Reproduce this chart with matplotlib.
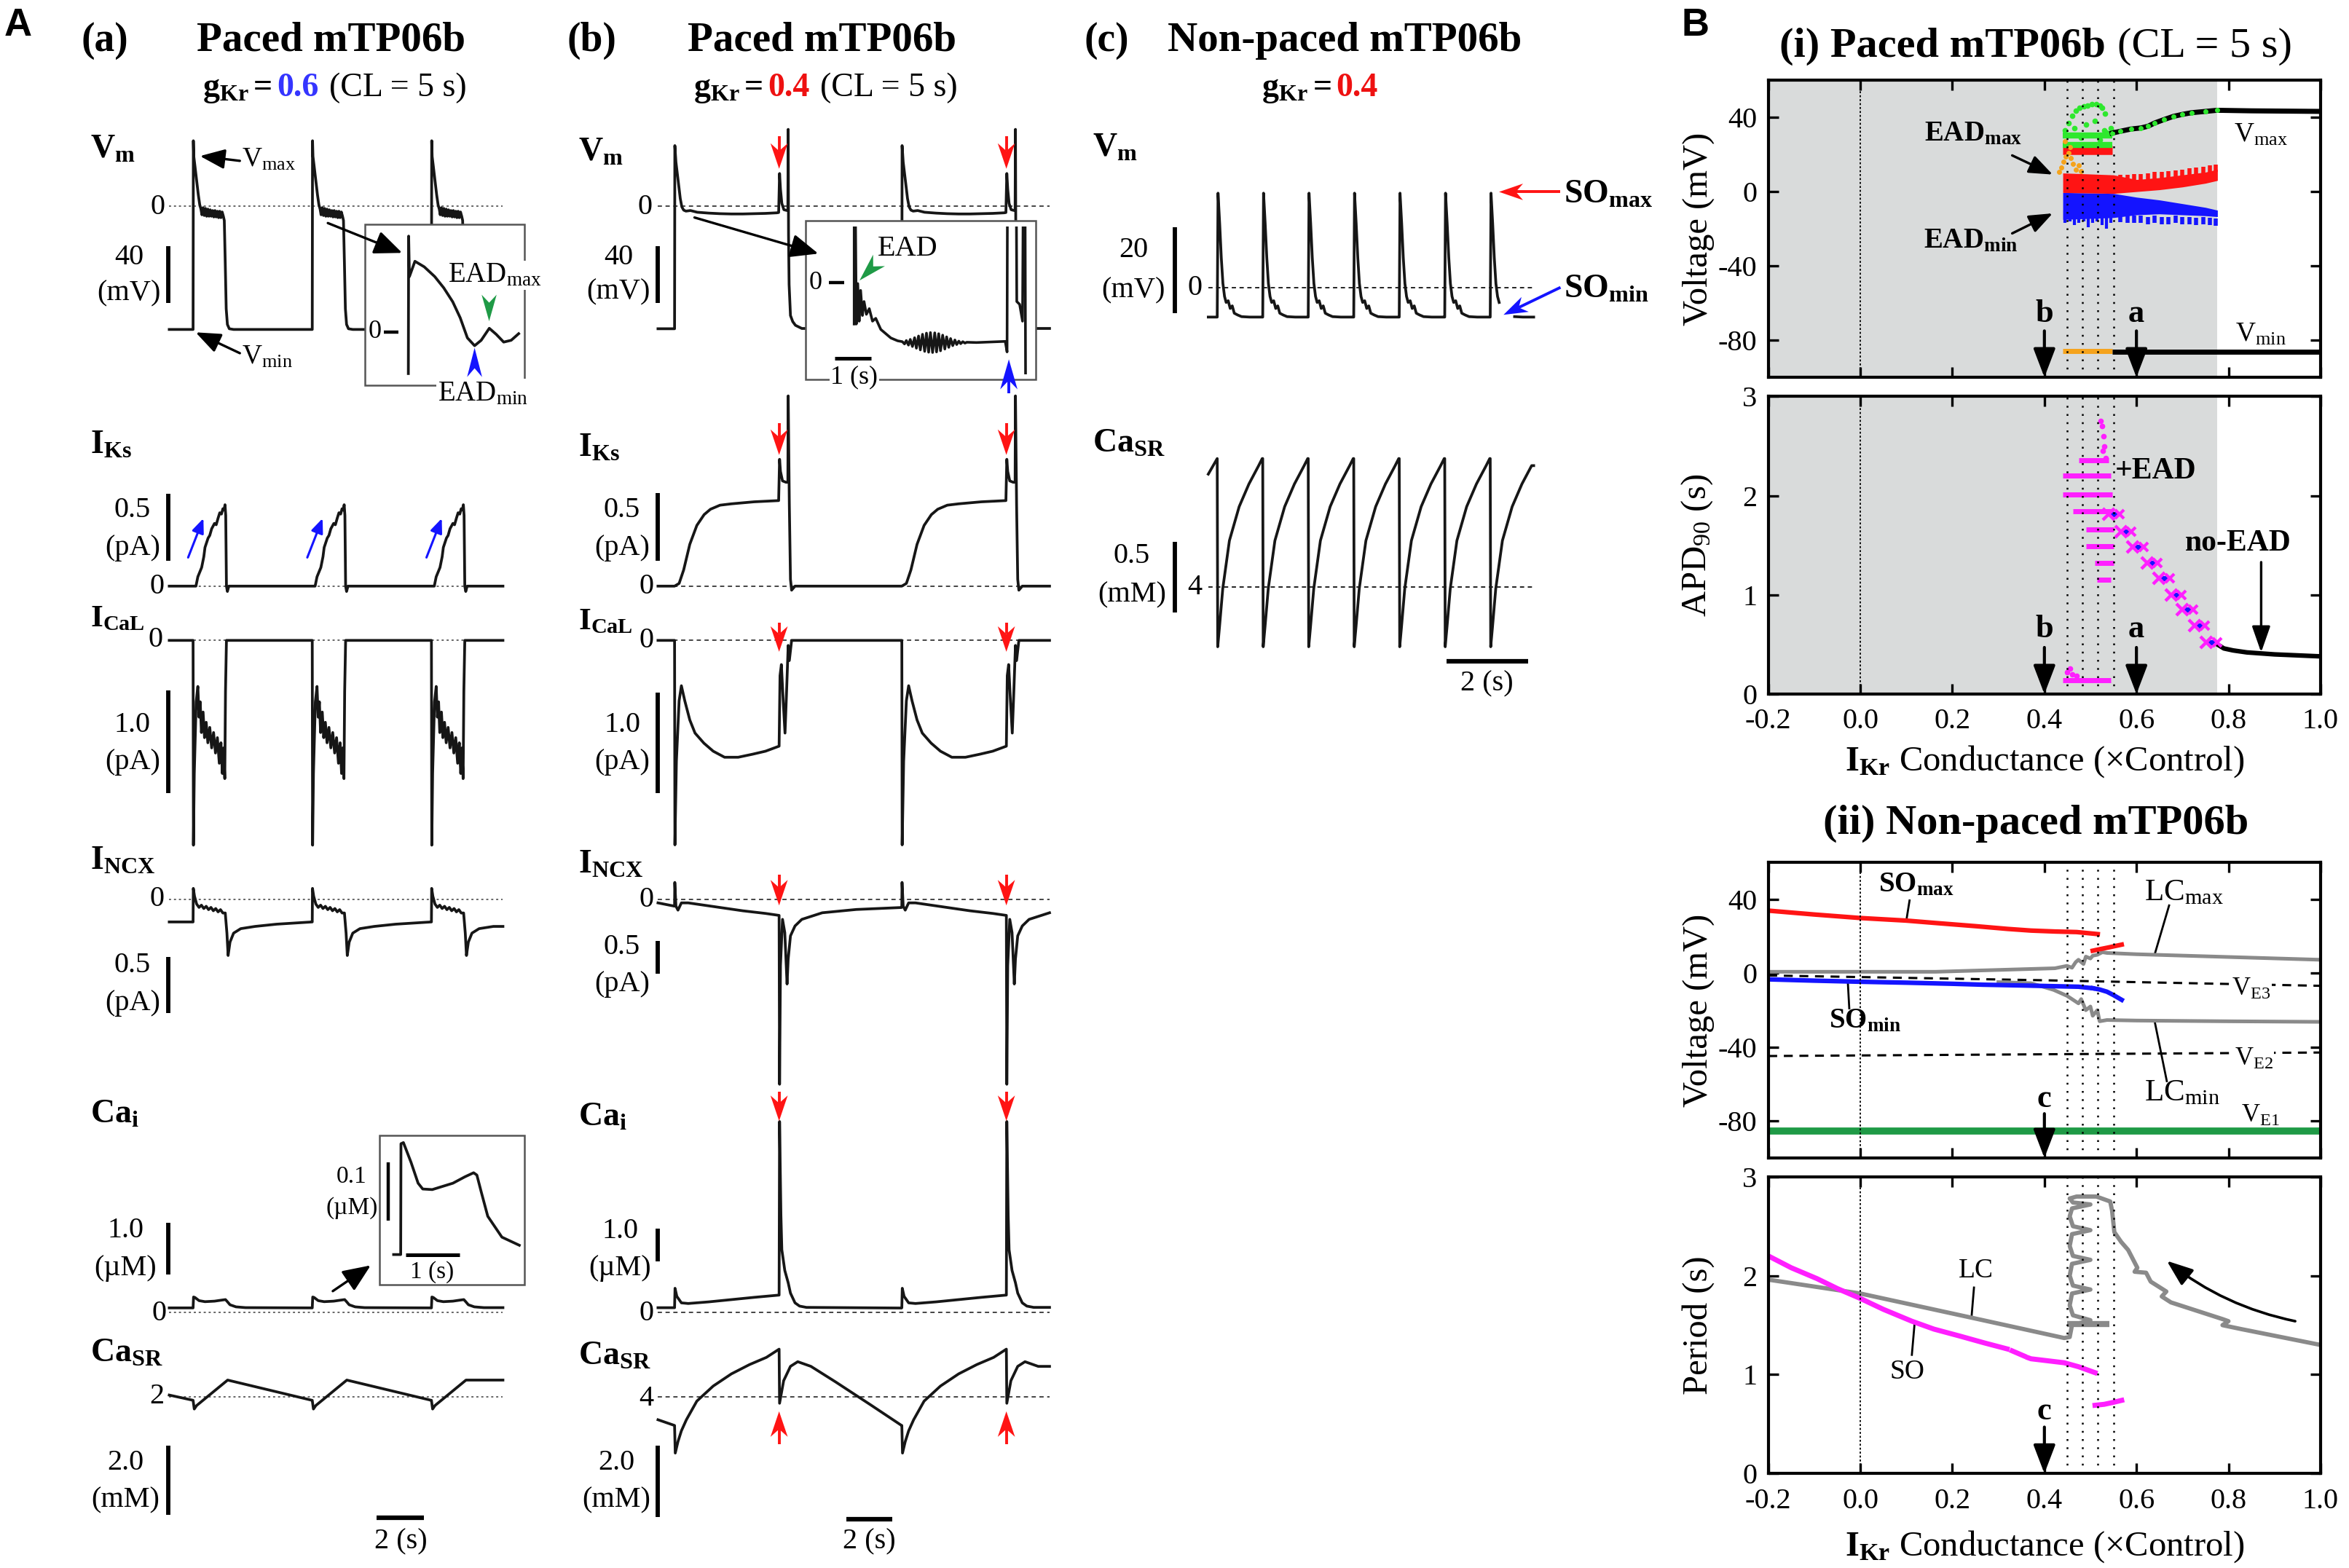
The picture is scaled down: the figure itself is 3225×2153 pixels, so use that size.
#!/usr/bin/env python3
import matplotlib

matplotlib.use("Agg")
import matplotlib.pyplot as plt
import numpy as np
from matplotlib.lines import Line2D
from matplotlib.patches import FancyArrowPatch, Polygon, Rectangle

plt.rcParams["font.family"] = ["Liberation Serif", "DejaVu Serif"]
plt.rcParams["mathtext.fontset"] = "custom"
plt.rcParams["mathtext.rm"] = "Liberation Serif"
plt.rcParams["mathtext.it"] = "Liberation Serif:italic"
plt.rcParams["mathtext.bf"] = "Liberation Serif:bold"
plt.rcParams["axes.unicode_minus"] = False

# ------------------------------------------------------------------ data
# A(a): paced, gKr = 0.6, CL = 5 s.  One beat each, time in s after stimulus.
A_ONSETS = [0.0, 5.0, 10.0]
VM_A_T = [0.0, 0.012, 0.03, 0.08, 0.15, 0.22, 0.28, 0.33, 0.37, 0.42, 0.47, 0.52,
          0.57, 0.62, 0.67, 0.72, 0.77, 0.82, 0.87, 0.92, 0.97, 1.02, 1.07, 1.12,
          1.17, 1.22, 1.27, 1.31, 1.35, 1.39, 1.44, 1.52, 1.7]
VM_A_V = [-86.5, 46, 35, 28, 18, 8, 1, -2, -6, -1, -6.5, -1.5, -7, -2, -7, -2.5,
          -7, -3, -7.5, -3, -7.5, -3.5, -8, -3.5, -8, -4, -7, -10, -40, -72, -83,
          -86, -86.5]
IKS_A_T = [0.0, 0.12, 0.2, 0.36, 0.45, 0.5, 0.63, 0.7, 0.78, 0.9, 0.97, 1.05, 1.12,
           1.19, 1.25, 1.3, 1.34, 1.37, 1.4, 1.44, 1.5]
IKS_A_V = [0.0, 0.0, 0.07, 0.14, 0.22, 0.29, 0.36, 0.38, 0.43, 0.47, 0.46, 0.51,
           0.55, 0.54, 0.58, 0.57, 0.61, 0.53, 0.0, -0.04, 0.0]
ICAL_A_T = [0.0, 0.015, 0.05, 0.13, 0.2, 0.25, 0.3, 0.35, 0.42, 0.48, 0.55, 0.62,
            0.7, 0.78, 0.86, 0.94, 1.02, 1.1, 1.17, 1.23, 1.28, 1.33, 1.36, 1.4, 1.5]
ICAL_A_V = [0.0, -2.0, -1.3, -0.6, -0.45, -0.75, -0.6, -0.9, -0.7, -0.95, -0.8,
            -1.0, -0.85, -1.05, -0.9, -1.1, -0.95, -1.2, -1.0, -1.3, -1.05, -1.35,
            -0.5, 0.0, 0.0]
INCX_A_T = [0.0, 0.01, 0.06, 0.15, 0.25, 0.35, 0.45, 0.55, 0.65, 0.75, 0.85, 0.95,
            1.05, 1.15, 1.25, 1.35, 1.42, 1.47, 1.55, 1.7, 2.0, 2.6, 3.5, 4.99]
INCX_A_V = [-0.2, 0.1, 0.03, -0.04, -0.07, -0.05, -0.08, -0.06, -0.09, -0.07, -0.1,
            -0.08, -0.11, -0.09, -0.12, -0.12, -0.3, -0.5, -0.38, -0.3, -0.26,
            -0.24, -0.22, -0.2]
CAI_A_T = [0.0, 0.02, 0.08, 0.25, 0.5, 0.9, 1.2, 1.36, 1.42, 1.55, 1.8, 2.2, 4.99]
CAI_A_V = [0.09, 0.3, 0.29, 0.23, 0.21, 0.22, 0.24, 0.25, 0.22, 0.15, 0.11, 0.095, 0.09]
CASR_A_T = [0.0, 0.05, 0.15, 1.45, 4.99]
CASR_A_V = [1.9, 1.65, 1.75, 2.48, 1.9]
A_PRE = {"vm": -86.5, "iks": 0.0, "ical": 0.0, "incx": -0.2, "cai": 0.09, "casr": 2.05}

# A(b): paced, gKr = 0.4, CL = 5 s (2:1, EAD then stimulus at 5 s)
B_ONSETS = [0.0, 10.0]
VM_B_T = [0.0, 0.012, 0.06, 0.15, 0.25, 0.32, 0.4, 0.5, 0.7, 1.0, 1.5, 2.0, 2.5, 3.0,
          3.5, 4.0, 4.5, 4.58, 4.62, 4.66, 4.72, 4.81, 4.9, 4.985, 5.0, 5.015, 5.04,
          5.1, 5.2, 5.32, 5.6, 9.99]
VM_B_V = [-86, 42.6, 31, 19, 5.5, -0.4, -2.7, -3.4, -3.0, -4.2, -4.8, -5.2, -5.4,
          -5.4, -5.2, -5.0, -4.6, -4.4, 23, 12, 2, -2.4, -2.8, -3.0, 54, -20, -55,
          -76.7, -81, -83.6, -85.8, -86]
IKS_B_T = [0.0, 0.2, 0.4, 0.67, 0.98, 1.3, 1.58, 2.0, 2.5, 3.5, 4.58, 4.62, 4.66,
           4.75, 4.9, 4.985, 5.0, 5.05, 5.1, 5.15, 5.3, 9.99]
IKS_B_V = [0.0, 0.02, 0.12, 0.31, 0.45, 0.53, 0.57, 0.6, 0.61, 0.625, 0.634, 0.94,
           0.85, 0.78, 0.77, 0.77, 1.41, 0.6, 0.05, -0.03, 0.0, 0.0]
ICAL_B_T = [0.0, 0.015, 0.08, 0.2, 0.3, 0.45, 0.67, 0.9, 1.29, 1.7, 2.2, 2.8, 3.43,
            4.0, 4.6, 4.64, 4.7, 4.78, 4.86, 4.93, 5.0, 5.05, 5.15, 9.99]
ICAL_B_V = [0.0, -2.03, -1.2, -0.6, -0.45, -0.6, -0.79, -0.92, -1.02, -1.1, -1.16,
            -1.16, -1.13, -1.1, -1.05, -0.35, -0.24, -0.6, -0.92, -0.5, -0.05, -0.2,
            0.0, 0.0]
INCX_B_T = [0.0, 0.01, 0.06, 0.15, 0.3, 0.6, 1.0, 2.0, 3.0, 4.0, 4.6, 4.62, 4.66,
            4.75, 4.85, 4.95, 5.0, 5.1, 5.3, 5.6, 6.5, 8.0, 9.99]
INCX_B_V = [-0.1, 0.26, -0.1, -0.16, -0.05, -0.05, -0.07, -0.12, -0.17, -0.21,
            -0.24, -2.8, -1.0, -0.3, -0.5, -1.28, -0.9, -0.55, -0.4, -0.3, -0.2,
            -0.15, -0.12]
CAI_B_T = [0.0, 0.02, 0.1, 0.3, 0.6, 1.5, 2.5, 3.5, 4.6, 4.62, 4.68, 4.72, 4.85,
           5.0, 5.1, 5.3, 5.5, 5.8, 9.99]
CAI_B_V = [0.15, 0.75, 0.5, 0.3, 0.28, 0.33, 0.4, 0.47, 0.54, 5.9, 3.0, 1.94, 1.3,
           0.92, 0.6, 0.3, 0.2, 0.16, 0.14]
CASR_B_T = [0.0, 0.03, 0.15, 0.3, 0.52, 0.98, 1.7, 2.5, 3.3, 4.04, 4.6, 4.62, 4.8,
            5.1, 5.42, 6.0, 7.1, 8.64, 9.99]
CASR_B_V = [3.2, 2.43, 2.75, 3.05, 3.36, 3.88, 4.3, 4.64, 4.9, 5.1, 5.33, 3.82, 4.45,
            4.85, 4.98, 4.85, 4.41, 3.77, 3.2]
B_PRE = {"vm": -86.0, "iks": 0.0, "ical": 0.0, "incx": -0.05, "cai": 0.15, "casr": 3.36}
B_EAD_T = 4.6

# A(c): non-paced, gKr = 0.4 (self-sustained oscillation, period 1.12 s)
C_ONSETS = [0.0, 1.12, 2.24, 3.36, 4.48, 5.60, 6.72]
VM_C_T = [0.0, 0.02, 0.06, 0.1, 0.14, 0.18, 0.22, 0.27, 0.32, 0.37, 0.42, 0.5, 0.6, 0.8, 1.11]
VM_C_V = [-6.8, 22, 15, 7, 1, -2, -3.4, -3.0, -4.8, -4.2, -5.9, -6.3, -6.7, -6.8, -6.8]
CASR_C_T = [0.0, 0.012, 0.056, 0.136, 0.3, 0.54, 0.78, 1.02, 1.108]
CASR_C_V = [4.91, 3.58, 3.72, 3.99, 4.33, 4.57, 4.73, 4.86, 4.91]

# insets (time in s, Vm in mV / Cai in uM)
INSET_A = [(0.0, -27.9), (0.005, 63.8), (0.018, 36.8), (0.11, 47.0), (0.265, 43.3),
           (0.44, 36.8), (0.59, 29.3), (0.74, 20.0), (0.865, 9.3), (0.985, -4.1),
           (1.105, -9.3), (1.215, -5.7), (1.35, 2.3), (1.465, -1.7), (1.59, -6.9),
           (1.715, -5.7), (1.84, -1.3)]
INSET_B = [(0.0, -14.5), (0.002, 80), (0.06, -14.5), (0.1, -0.3), (0.14, -13.5),
           (0.18, -2.7), (0.23, -11.5), (0.275, -6.6), (0.34, -11.1), (0.42, -9.1),
           (0.51, -13.5), (0.6, -12.5), (0.74, -16.4), (0.88, -17.9), (1.02, -19.4),
           (1.21, -20.4), (1.34, -20.7), (1.40, -21.5), (1.45, -20.3), (1.51, -21.9),
           (1.56, -19.9), (1.62, -22.4), (1.68, -19.3), (1.73, -23.0), (1.79, -18.7),
           (1.84, -23.6), (1.90, -18.1), (1.96, -24.1), (2.01, -17.7), (2.07, -24.4),
           (2.12, -17.5), (2.18, -24.5), (2.24, -17.6), (2.29, -24.3), (2.35, -17.9),
           (2.40, -23.9), (2.46, -18.4), (2.52, -23.3), (2.57, -19.0), (2.63, -22.7),
           (2.68, -19.6), (2.74, -22.1), (2.80, -20.1), (2.85, -21.7), (2.91, -20.5),
           (2.96, -21.4), (3.02, -20.7), (3.08, -21.2), (3.13, -20.9), (3.4, -21.0),
           (4.2, -20.6), (4.25, -24.3), (4.27, 80), (4.49, 80), (4.52, -6.6),
           (4.6, -7.6), (4.68, -13.5), (4.72, 80), (4.74, 80), (4.77, -60)]
INSET_CAI = [(-0.13, 0.1), (0.0, 0.1), (0.005, 0.291), (0.05, 0.293), (0.19, 0.259),
             (0.32, 0.223), (0.405, 0.213), (0.58, 0.212), (0.96, 0.223), (1.18, 0.234),
             (1.34, 0.241), (1.4, 0.237), (1.48, 0.208), (1.6, 0.166), (1.86, 0.13),
             (2.18, 0.116)]

# B(i): paced bifurcation, x = IKr conductance (x control)
B_XTICKS = [-0.2, 0.0, 0.2, 0.4, 0.6, 0.8, 1.0]
B_XTICKLABELS = ["-0.2", "0.0", "0.2", "0.4", "0.6", "0.8", "1.0"]
SHADE_END = 0.776
EAD_DOTLINES = [0.449, 0.483, 0.516, 0.55]
VMAX_X = [0.547, 0.565, 0.588, 0.61, 0.625, 0.64, 0.66, 0.68, 0.70, 0.72, 0.75, 0.775, 0.85, 0.95, 1.0]
VMAX_Y = [31.5, 32.5, 33.7, 34.3, 35.2, 37.0, 38.8, 40.5, 41.6, 42.5, 43.2, 43.8, 43.5, 43.3, 43.2]
VMIN_EAD_X = [0.44, 0.547]
VMIN_EAD_Y = [-86.0, -86.0]
VMIN_X = [0.547, 1.0]
VMIN_Y = [-86.3, -86.3]
GREEN_BAND_Y = [30.3, 25.0]
GREEN_BAND_X = [0.44, 0.547]
GREEN_DOT_X = [0.445, 0.452, 0.46, 0.468, 0.476, 0.485, 0.494, 0.503, 0.512, 0.52,
               0.526, 0.532, 0.465, 0.49, 0.51, 0.53, 0.48, 0.52, 0.535, 0.545]
GREEN_DOT_Y = [33, 37, 41, 43.5, 45, 46, 46.5, 47, 47, 46.5, 45, 42, 34, 36, 38, 33,
               29, 28, 32, 34]
RED_BAND_Y = 22.5
RED_X = [0.44, 0.55, 0.60, 0.65, 0.70, 0.75, 0.776]
RED_LO = [-0.5, -1.0, 0.0, 1.0, 2.5, 4.5, 6.0]
RED_HI = [10.0, 9.0, 6.5, 7.5, 9.0, 10.5, 12.0]
SPIKE_X = [0.565, 0.58, 0.595, 0.61, 0.625, 0.64, 0.655, 0.67, 0.685, 0.70, 0.715,
           0.73, 0.745, 0.76, 0.772]
RED_SPIKE_LO = [5, 5, 5.5, 5.5, 6, 6.5, 6.5, 7, 7.5, 8, 8.5, 9, 9.5, 10, 10.5]
RED_SPIKE_HI = [9.0, 9.0, 9.5, 9.5, 10, 10.5, 10.5, 11, 11.5, 12, 12.5, 13, 13.5, 14, 14.5]
BLUE_X = [0.44, 0.55, 0.60, 0.65, 0.70, 0.75, 0.776]
BLUE_HI = [-0.5, -1.0, -3.0, -4.5, -6.5, -8.5, -10.0]
BLUE_LO = [-15.0, -14.0, -12.5, -12.0, -12.5, -13.0, -13.5]
BLUE_SPIKE_LO = [-16.5, -17, -17, -17, -17.5, -17, -17.5, -17.5, -17, -17.5, -17.5,
                 -18, -17.5, -18, -18.5]
BLUE_EAD_SPIKE_X = [0.445, 0.455, 0.465, 0.475, 0.485, 0.495, 0.505, 0.515, 0.525, 0.535, 0.545]
BLUE_EAD_SPIKE_LO = [-17, -16, -18, -17, -16, -19, -17, -16, -18, -20, -17]
ORANGE_DOT_X = [0.432, 0.437, 0.442, 0.447, 0.452, 0.457, 0.462, 0.468, 0.474, 0.48, 0.455, 0.445]
ORANGE_DOT_Y = [10.5, 13, 16, 19, 21, 18, 15, 12, 14, 11, 24, 27]

APD_NOEAD_X = [0.776, 0.79, 0.81, 0.84, 0.87, 0.9, 0.95, 1.0]
APD_NOEAD_Y = [0.50, 0.46, 0.44, 0.42, 0.41, 0.40, 0.39, 0.38]
STEP_X = [0.552, 0.578, 0.604, 0.635, 0.661, 0.687, 0.712, 0.738, 0.764]
STEP_Y = [1.81, 1.64, 1.48, 1.32, 1.17, 1.00, 0.85, 0.69, 0.52]
MAG_BAND_X0 = [0.44, 0.44, 0.462, 0.49, 0.49, 0.51, 0.515, 0.475, 0.44]
MAG_BAND_X1 = [0.545, 0.548, 0.55, 0.55, 0.55, 0.55, 0.545, 0.54, 0.545]
MAG_BAND_Y = [2.20, 2.01, 1.84, 1.66, 1.49, 1.32, 1.15, 2.36, 0.14]
MAG_DOT_X = [0.522, 0.525, 0.528, 0.53, 0.527, 0.533, 0.45, 0.455, 0.46, 0.47]
MAG_DOT_Y = [2.75, 2.7, 2.6, 2.5, 2.45, 2.38, 0.22, 0.26, 0.2, 0.18]

# B(ii): non-paced bifurcation
SOMAX_X = [-0.2, -0.1, 0.0, 0.1, 0.164, 0.25, 0.32, 0.371, 0.423, 0.47, 0.516]
SOMAX_Y = [33.9, 31.8, 29.9, 28.5, 27.2, 25.5, 24.0, 23.1, 22.6, 22.3, 21.2]
SOMAX2_X = [0.505, 0.52, 0.54, 0.555, 0.568]
SOMAX2_Y = [12.2, 13.0, 14.0, 14.8, 15.5]
SOMIN_X = [-0.2, -0.1, 0.0, 0.1, 0.2, 0.267, 0.35, 0.42, 0.474, 0.505]
SOMIN_Y = [-3.3, -4.0, -4.6, -5.1, -5.7, -6.2, -6.6, -7.0, -7.3, -8.1]
SOMIN2_X = [0.505, 0.52, 0.536, 0.55, 0.568]
SOMIN2_Y = [-8.1, -8.8, -10.0, -11.8, -14.4]
LCMAX_X = [-0.2, 0.0, 0.164, 0.3, 0.423, 0.449, 0.46, 0.468, 0.474, 0.485, 0.49, 0.5,
           0.505, 0.515, 0.526, 0.536, 0.6, 0.8, 1.0]
LCMAX_Y = [0.8, 0.8, 0.8, 1.8, 2.7, 4.0, 3.0, 6.0, 7.3, 5.0, 9.0, 8.0, 9.5, 10.0,
           11.4, 11.0, 10.3, 8.8, 7.3]
LCMIN_X = [0.3, 0.371, 0.42, 0.449, 0.46, 0.474, 0.48, 0.49, 0.5, 0.505, 0.515, 0.52,
           0.536, 0.6, 0.8, 1.0]
LCMIN_Y = [-4.8, -5.4, -9.0, -12.2, -14.0, -16.3, -14.0, -20.0, -18.0, -23.0, -20.0,
           -26.0, -25.3, -25.6, -26.0, -26.3]
VE3_X = [-0.2, 0.4, 1.0]
VE3_Y = [-1.2, -3.8, -6.8]
VE2_X = [-0.2, 1.0]
VE2_Y = [-44.8, -42.9]
VE1_X = [-0.2, 1.0]
VE1_Y = [-85.5, -85.5]

SO_PER_X = [-0.2, -0.15, -0.094, -0.05, 0.0, 0.05, 0.112, 0.16, 0.216, 0.27, 0.319,
            np.nan, 0.33, 0.355, np.nan, 0.365, 0.371, 0.443, 0.474, 0.51]
SO_PER_Y = [2.2, 2.08, 1.97, 1.87, 1.77, 1.66, 1.54, 1.46, 1.39, 1.32, 1.26,
            np.nan, 1.24, 1.19, np.nan, 1.17, 1.16, 1.12, 1.08, 1.02]
SO_PER2_X = [0.51, 0.53, 0.55, 0.568]
SO_PER2_Y = [0.69, 0.70, 0.72, 0.74]
LC_PER_X = [-0.2, 0.0, 0.247, 0.443, 0.455,
            0.46, 0.50, 0.462, 0.455, 0.46, 0.50, 0.462, 0.455, 0.46, 0.50, 0.462,
            0.455, 0.46, 0.50, 0.462, 0.455, 0.46, 0.50, 0.462, 0.455, 0.47, 0.513,
            0.543, 0.547, 0.552, 0.567, 0.582, 0.602, 0.596, 0.621, 0.631, 0.665,
            0.655, 0.675, 0.788, 0.80, 0.787, 0.828, 1.0]
LC_PER_Y = [1.96, 1.82, 1.57, 1.37, 1.38,
            1.5, 1.55, 1.6, 1.7, 1.82, 1.86, 1.9, 2.0, 2.12, 2.16, 2.2, 2.3, 2.42,
            2.46, 2.5, 2.6, 2.68, 2.72, 2.74, 2.78, 2.8, 2.8,
            2.75, 2.66, 2.44, 2.34, 2.26, 2.08, 2.04, 2.03, 1.94, 1.84,
            1.79, 1.73, 1.56, 1.54, 1.5, 1.46, 1.30]
LC_FLAT_X = [0.449, 0.541]
LC_FLAT_Y = [1.515, 1.515]

# ---------------------------------------------------------------- style
TRACE = "#161616"
RED = "#ff1414"
BLUE = "#1414ff"
GREEN = "#2ee82e"
DKGREEN = "#1f9a46"
ORANGE = "#f5a31c"
MAGENTA = "#ff1fff"
GRAY = "#8a8a8a"
BG = "#d9dbdb"
TXT_BLUE = "#3535ff"
TXT_RED = "#ee1111"

W, H = 1567.0, 1046.0  # layout grid of the reference (px)
fig = plt.figure(figsize=(32.25, 21.53), dpi=100)


def fx(x):
    return x / W


def fy(y):
    return 1.0 - y / H


def ftext(x, y, s, size, **kw):
    kw.setdefault("ha", "center")
    kw.setdefault("va", "center")
    kw.setdefault("zorder", 5)
    return fig.text(fx(x), fy(y), s, fontsize=size, **kw)


def fline(xs, ys, lw=2.0, color="k", z=4):
    fig.add_artist(Line2D([fx(a) for a in xs], [fy(b) for b in ys], lw=lw, color=color,
                          transform=fig.transFigure, zorder=z, solid_capstyle="butt"))


def farrow(x0, y0, x1, y1, color="k", lw=2.4, ms=26, hl=0.9, hw=0.38):
    fig.add_artist(FancyArrowPatch((fx(x0), fy(y0)), (fx(x1), fy(y1)),
                                   transform=fig.transFigure,
                                   arrowstyle=f"-|>,head_length={hl},head_width={hw}",
                                   mutation_scale=ms, lw=lw, color=color,
                                   shrinkA=0, shrinkB=0, zorder=6))


def fhead(xt, yt, xb, yb, color, width=9.0, notch=0.3):
    # notched arrow head: tip (xt, yt), wing base centre (xb, yb), layout px
    dx, dy = xt - xb, yt - yb
    L = np.hypot(dx, dy)
    ux, uy = dx / L, dy / L
    nx, ny = -uy, ux
    pts = [(xt, yt), (xb + nx * width / 2, yb + ny * width / 2),
           (xb + ux * L * notch, yb + uy * L * notch),
           (xb - nx * width / 2, yb - ny * width / 2)]
    fig.add_artist(Polygon([(fx(a), fy(b)) for a, b in pts], closed=True,
                           transform=fig.transFigure, color=color, lw=0, zorder=6))


def notched_arrow(x0, y0, x1, y1, color, head=17.0, width=11.5, lw=2.8):
    dx, dy = x1 - x0, y1 - y0
    L = np.hypot(dx, dy)
    ux, uy = dx / L, dy / L
    hb = (x1 - ux * head, y1 - uy * head)
    nb = (hb[0] + ux * head * 0.3, hb[1] + uy * head * 0.3)
    fline([x0, nb[0]], [y0, nb[1]], lw=lw, color=color, z=6)
    fhead(x1, y1, hb[0], hb[1], color, width=width, notch=0.3)


def chain_text(xc, y, parts, size):
    r = fig.canvas.get_renderer()
    arts, widths = [], []
    for s, col, wt, gap in parts:
        t = fig.text(0, fy(y), s, fontsize=size, color=col, fontweight=wt,
                     ha="left", va="baseline", zorder=5)
        arts.append(t)
        widths.append(t.get_window_extent(r).width / fig.bbox.width + fx(gap))
    x = fx(xc) - sum(widths) / 2
    for t, w in zip(arts, widths):
        t.set_x(x)
        x += w


def trace_axes(x0, y0, x1, y1, t0_px, pps, zero_px, ppu, z=0):
    ax = fig.add_axes([fx(x0), fy(y1), (x1 - x0) / W, (y1 - y0) / H], zorder=z)
    ax.set_xlim((x0 - t0_px) / pps, (x1 - t0_px) / pps)
    ax.set_ylim((zero_px - y1) / ppu, (zero_px - y0) / ppu)
    ax.axis("off")
    return ax


def train(onsets, bt, bv, t_start, v_start, t_end):
    t, v = [t_start], [v_start]
    for t0 in onsets:
        for a, b in zip(bt, bv):
            t.append(t0 + a)
            v.append(b)
    t, v = np.array(t), np.array(v, dtype=float)
    keep = t <= t_end
    t, v = t[keep], v[keep]
    if t[-1] < t_end:
        t, v = np.append(t, t_end), np.append(v, v[-1])
    return t, v


COL_A = dict(x0=100, x1=360, t0=128.8, pps=15.9, onsets=A_ONSETS, ts=-1.0, te=13.0,
             bar_x=112.2, ref_ls=(0, (1.5, 2.0)), ref_c="#666666")
COL_B = dict(x0=430, x1=710, t0=450.0, pps=15.16, onsets=B_ONSETS, ts=-0.73, te=16.5,
             bar_x=439.0, ref_ls=(0, (3, 2.5)), ref_c="#444444")
COL_C = dict(x0=780, x1=1030, t0=812.0, pps=27.1, onsets=C_ONSETS, ts=-0.22, te=7.79,
             bar_x=783.5, ref_ls=(0, (3, 2.5)), ref_c="#222222")


def row(col, bt, bv, pre, y0, y1, zero_px, ppu, ref, bar_len, bar_bottom, gap=None):
    ax = trace_axes(col["x0"], y0, col["x1"], y1, col["t0"], col["pps"], zero_px, ppu)
    t, v = train(col["onsets"], bt, bv, col["ts"], pre, col["te"])
    if gap is not None:
        v[(t > gap[0]) & (t < gap[1])] = np.nan
    ax.plot([col["ts"], col["te"]], [ref, ref], color=col["ref_c"], ls=col["ref_ls"],
            lw=1.4, zorder=1)
    ax.plot(t, v, color=TRACE, lw=2.7, clip_on=False, zorder=3, solid_joinstyle="round")
    tb = (col["bar_x"] - col["t0"]) / col["pps"]
    vb = (zero_px - bar_bottom) / ppu
    ax.plot([tb, tb], [vb, vb + bar_len], color="k", lw=4.2, solid_capstyle="butt",
            clip_on=False)
    return ax


def time_bar(ax, col, zero_px, ppu, x_left, y_px, seconds):
    t1 = (x_left - col["t0"]) / col["pps"]
    vb = (zero_px - y_px) / ppu
    ax.plot([t1, t1 + seconds], [vb, vb], color="k", lw=4.5, solid_capstyle="butt",
            clip_on=False)


LAB = 33
SCL = 29

# ---------------------------------------------------------------- headers
ftext(12, 17, "A", 38, family="Liberation Sans", fontweight="bold")
ftext(1131, 17, "B", 38, family="Liberation Sans", fontweight="bold")
ftext(70, 27, "(a)", 40, fontweight="bold")
ftext(221, 27, "Paced mTP06b", 41, fontweight="bold")
ftext(395, 27, "(b)", 40, fontweight="bold")
ftext(548.5, 27, "Paced mTP06b", 41, fontweight="bold")
ftext(738, 27, "(c)", 40, fontweight="bold")
ftext(897, 27, "Non-paced mTP06b", 41, fontweight="bold")
for xc, val, col, tail in [(223, "0.6", TXT_BLUE, True), (550.5, "0.4", TXT_RED, True),
                           (884, "0.4", TXT_RED, False)]:
    parts = [(r"$\mathbf{g_{Kr}}$", "k", "normal", 3), ("=", "k", "bold", 3),
             (val, col, "bold", 7)]
    if tail:
        parts.append(("(CL = 5 s)", "k", "normal", 0))
    chain_text(xc, 64, parts, 33)

# ---------------------------------------------------------------- column (a)
row(COL_A, VM_A_T, VM_A_V, A_PRE["vm"], 80, 240, 137.6, 0.95, 0, 40, 202)
row(COL_A, IKS_A_T, IKS_A_V, A_PRE["iks"], 280, 400, 391.0, 89.0, 0, 0.5, 374)
row(COL_A, ICAL_A_T, ICAL_A_V, A_PRE["ical"], 405, 570, 427.2, 68.3, 0, 1.0, 529.1)
row(COL_A, INCX_A_T, INCX_A_V, A_PRE["incx"], 585, 690, 600.1, 74.6, 0, 0.5, 675.8)
row(COL_A, CAI_A_T, CAI_A_V, A_PRE["cai"], 740, 885, 875.6, 34.6, 0, 1.0, 850.2)
ax = row(COL_A, CASR_A_T, CASR_A_V, A_PRE["casr"], 890, 1020, 978.3, 23.25, 2, 2.0, 1010.7)
time_bar(ax, COL_A, 978.3, 23.25, 251, 1012.6, 2.0)
ftext(267.3, 1028.6, "2 (s)", SCL)

for lab, y, size in [(r"$\mathbf{V_m}$", 100, LAB), (r"$\mathbf{I_{Ks}}$", 297, LAB),
                     (r"$\mathbf{I_{CaL}}$", 413, 31), (r"$\mathbf{I_{NCX}}$", 574.7, LAB),
                     (r"$\mathbf{Ca_i}$", 743.6, LAB), (r"$\mathbf{Ca_{SR}}$", 902.7, LAB)]:
    ftext(60.4, y, lab, size, ha="left")
    ftext(385.8, y + 2, lab, size, ha="left")
for s, x, y in [("0", 105, 138), ("40", 86, 171.5), ("(mV)", 86, 195.7),
                ("0", 104.6, 391.4), ("0.5", 88.3, 340.4), ("(pA)", 88.3, 365.4),
                ("0", 103.6, 427), ("1.0", 88.3, 483.6), ("(pA)", 88.3, 508.5),
                ("0", 104.6, 600), ("0.5", 88.3, 644), ("(pA)", 88.3, 669),
                ("0", 106, 876.4), ("1.0", 83.7, 821), ("(µM)", 83.7, 846),
                ("2", 104.6, 931.8), ("2.0", 83.7, 976), ("(mM)", 83.7, 1001)]:
    ftext(x, y, s, SCL)

# Vmax / Vmin pointers
ftext(161.5, 106.4, r"V$_{\rm max}$", 27, ha="left")
farrow(160, 107.3, 133.4, 104.1, hl=0.8, hw=0.32)
ftext(161.5, 238.4, r"V$_{\rm min}$", 27, ha="left")
farrow(160, 235.6, 130.5, 221.7, hl=0.8, hw=0.32)
# IKs rising arrows
for k in A_ONSETS:
    dx = k * COL_A["pps"]
    farrow(125.5 + dx, 371.9, 135.7 + dx, 345.8, color=BLUE, lw=2.2, ms=20, hl=0.6, hw=0.25)

# Vm inset (a)
fig.add_artist(Rectangle((fx(243.6), fy(257)), (350 - 243.6) / W, (257 - 149.5) / H,
                         transform=fig.transFigure, facecolor="white", edgecolor="#555555",
                         lw=1.8, zorder=1.5))
axi = trace_axes(243.6, 152, 350, 255, 272.4, 40.0, 221.3, 1.0, z=2)
axi.plot([p[0] for p in INSET_A], [p[1] for p in INSET_A], color=TRACE, lw=2.7)
ftext(250, 221.3, "0", 26)
fline([256, 266], [221.3, 221.3], lw=3.2)
ftext(330, 183.6, r"EAD$_{\rm max}$", 28,
      bbox=dict(facecolor="white", edgecolor="none", pad=1))
ftext(322, 262.6, r"EAD$_{\rm min}$", 28,
      bbox=dict(facecolor="white", edgecolor="none", pad=1))
fhead(326.3, 214.3, 326.3, 196.6, DKGREEN, width=10)
fhead(316.6, 232, 316.6, 251.5, BLUE, width=10)
farrow(218.7, 148.8, 268.3, 168.7, lw=2.4)

# Cai inset (a)
fig.add_artist(Rectangle((fx(253.3), fy(857.1)), (350 - 253.3) / W, (857.1 - 757.5) / H,
                         transform=fig.transFigure, facecolor="white", edgecolor="#555555",
                         lw=1.8, zorder=1.5))
axc = trace_axes(253.3, 760, 350, 855, 267.3, 36.3, 875.6, 387.0, z=2)
axc.plot([p[0] for p in INSET_CAI], [p[1] for p in INSET_CAI], color=TRACE, lw=2.7)
fline([259, 259], [775.5, 814.2], lw=3.2)
ftext(234.7, 785.1, "0.1", 24)
ftext(234.7, 805.9, "(µM)", 24)
fline([270.5, 306.8], [837.2, 837.2], lw=3.6)
ftext(288.2, 848.5, "1 (s)", 24)
farrow(222, 861.3, 247.3, 844.1, lw=2.4)

# ---------------------------------------------------------------- column (b)
row(COL_B, VM_B_T, VM_B_V, B_PRE["vm"], 75, 240, 137.6, 0.95, 0, 40, 202)
row(COL_B, IKS_B_T, IKS_B_V, B_PRE["iks"], 260, 400, 391.0, 90.0, 0, 0.5, 374)
row(COL_B, ICAL_B_T, ICAL_B_V, B_PRE["ical"], 405, 570, 427.2, 67.2, 0, 1.0, 529.1)
row(COL_B, INCX_B_T, INCX_B_V, B_PRE["incx"], 585, 725, 600.1, 44.0, 0, 0.5, 649.6)
row(COL_B, CAI_B_T, CAI_B_V, B_PRE["cai"], 740, 885, 875.6, 21.6, 0, 1.0, 841.3)
ax = row(COL_B, CASR_B_T, CASR_B_V, B_PRE["casr"], 890, 1020, 1027.4, 23.9, 4, 2.0, 1012)
time_bar(ax, COL_B, 1027.4, 23.9, 564.7, 1013.4, 2.0)
ftext(580, 1028.6, "2 (s)", SCL)
for s, x, y in [("0", 430.3, 138), ("40", 412.5, 171.5), ("(mV)", 412.5, 194.7),
                ("0", 431.3, 391.4), ("0.5", 415, 340.4), ("(pA)", 415, 365.4),
                ("0", 431.3, 427.2), ("1.0", 415, 483.6), ("(pA)", 415, 508.5),
                ("0", 431.3, 600.1), ("0.5", 415, 631.6), ("(pA)", 415, 656.5),
                ("0", 431.3, 876.4), ("1.0", 413.7, 821.1), ("(µM)", 413.7, 846),
                ("4", 431.3, 933), ("2.0", 411.3, 976), ("(mM)", 411.3, 1001)]:
    ftext(x, y, s, SCL)

for k in B_ONSETS:
    xa = COL_B["t0"] + (k + B_EAD_T) * COL_B["pps"]
    for y_tail, y_tip in [(90.7, 112.6), (282.2, 303.5), (415.3, 434.8), (583.4, 604),
                          (728.4, 747.8), (963.6, 941.5)]:
        notched_arrow(xa, y_tail, xa, y_tip, RED, head=17, width=11.5, lw=2.8)

# Vm inset (b)
fig.add_artist(Rectangle((fx(537.4), fy(253.3)), (690.9 - 537.4) / W, (253.3 - 147.3) / H,
                         transform=fig.transFigure, facecolor="white", edgecolor="#555555",
                         lw=1.8, zorder=1.5))
axi = trace_axes(537.4, 151, 690.9, 249.6, 569.8, 24.0, 188.6, 1.9, z=2)
axi.plot([p[0] for p in INSET_B], [p[1] for p in INSET_B], color=TRACE, lw=2.6)
ftext(544, 188.6, "0", 26)
fline([553, 563], [188.6, 188.6], lw=3.2)
fline([557, 581], [239, 239], lw=3.6)
ftext(569.8, 251.5, "1 (s)", 26, bbox=dict(facecolor="white", edgecolor="none", pad=1))
ftext(605.5, 165.9, "EAD", 29)
fhead(573.4, 187.1, 586.4, 173.7, DKGREEN, width=11)
notched_arrow(673, 262.5, 673, 239.7, BLUE, head=20, width=11.5, lw=2.8)
farrow(463.3, 145.1, 545.9, 169.2, lw=2.4)

# ---------------------------------------------------------------- column (c)
row(COL_C, VM_C_T, VM_C_V, -6.8, 90, 230, 192.0, 2.87, 0, 20, 209, gap=(6.95, 7.3))
ax = row(COL_C, CASR_C_T, CASR_C_V, 4.8, 290, 440, 769.4, 94.4, 4, 0.5, 408.7)
time_bar(ax, COL_C, 769.4, 94.4, 965, 441, 2.0)
ftext(992, 456, "2 (s)", SCL)
ftext(729, 99, r"$\mathbf{V_m}$", LAB, ha="left")
ftext(729, 296, r"$\mathbf{Ca_{SR}}$", LAB, ha="left")
for s, x, y in [("20", 756, 167), ("(mV)", 756, 194), ("0", 797, 192),
                ("0.5", 755, 371), ("(mM)", 755, 397), ("4", 797, 392)]:
    ftext(x, y, s, SCL)
ftext(1043, 130, r"$\mathbf{SO_{max}}$", 33, ha="left")
ftext(1043, 193, r"$\mathbf{SO_{min}}$", 33, ha="left")
notched_arrow(1041, 128, 1000, 128, RED, head=16, width=11, lw=2.8)
notched_arrow(1041, 191.7, 1003, 210, BLUE, head=16, width=11, lw=2.8)


# ---------------------------------------------------------------- panel B
def b_axes(y0, y1, ylim, yticks, ylabel, xlab=False):
    a = fig.add_axes([fx(1179.6), fy(y1), (1548.0 - 1179.6) / W, (y1 - y0) / H])
    a.set_xlim(-0.2, 1.0)
    a.set_ylim(*ylim)
    a.set_xticks(B_XTICKS)
    a.set_yticks(yticks)
    a.tick_params(direction="in", length=10, width=2.4, top=True, right=True,
                  labelsize=29, labelbottom=xlab)
    a.tick_params(axis="x", pad=14)
    a.tick_params(axis="y", pad=11)
    if xlab:
        a.set_xticklabels(B_XTICKLABELS)
    for sp in a.spines.values():
        sp.set_linewidth(3.0)
        sp.set_zorder(10)
    a.set_ylabel(ylabel, fontsize=35)
    a.yaxis.set_label_coords(-0.097, 0.5)
    for xv in EAD_DOTLINES:
        a.axvline(xv, color="k", lw=1.8, ls=(0, (1, 3.5)), zorder=6)
    a.axvline(0.0, color="k", lw=1.3, ls=(0, (1.5, 1.5)), zorder=6)
    return a


def down_arrow(a, x, y_tail, y_tip, label, y_label):
    a.annotate("", xy=(x, y_tip), xytext=(x, y_tail),
               arrowprops=dict(arrowstyle="-|>,head_length=1.1,head_width=0.42", lw=3,
                               color="k", shrinkA=0, shrinkB=0, mutation_scale=22), zorder=8)
    a.text(x, y_label, label, fontsize=32, fontweight="bold", ha="center", va="center", zorder=8)


chain_text(1358, 38, [("(i) Paced mTP06b", "k", "bold", 8), ("(CL = 5 s)", "k", "normal", 0)], 42)
ftext(1358, 549.6, "(ii) Non-paced mTP06b", 42, fontweight="bold")

# (i) top
a1 = b_axes(53.5, 251.7, (-100, 60), [-80, -40, 0, 40], "Voltage (mV)")
a1.axvspan(-0.2, SHADE_END, color=BG, lw=0, zorder=0)
a1.fill_between(BLUE_X, BLUE_LO, BLUE_HI, color=BLUE, lw=0, zorder=3)
a1.vlines(SPIKE_X, BLUE_SPIKE_LO, [v + 4 for v in BLUE_SPIKE_LO], color=BLUE, lw=4, zorder=3)
a1.vlines(BLUE_EAD_SPIKE_X, BLUE_EAD_SPIKE_LO, [-10] * len(BLUE_EAD_SPIKE_X), color=BLUE,
          lw=3, zorder=3)
a1.fill_between(RED_X, RED_LO, RED_HI, color=RED, lw=0, zorder=4)
a1.vlines(SPIKE_X, RED_SPIKE_LO, RED_SPIKE_HI, color=RED, lw=4, zorder=4)
a1.plot(GREEN_BAND_X, [RED_BAND_Y] * 2, color=RED, lw=9, solid_capstyle="butt", zorder=4)
for gy in GREEN_BAND_Y:
    a1.plot(GREEN_BAND_X, [gy, gy], color=GREEN, lw=6, solid_capstyle="butt", zorder=4)
a1.plot(GREEN_DOT_X, GREEN_DOT_Y, "o", color=GREEN, ms=4.5, zorder=4)
a1.plot(ORANGE_DOT_X, ORANGE_DOT_Y, "o", color=ORANGE, ms=4, zorder=4)
a1.plot(VMAX_X, VMAX_Y, color="k", lw=5, zorder=4)
a1.plot(VMAX_X[:12], VMAX_Y[:12], "o", color=GREEN, ms=4, zorder=5)
a1.plot(VMIN_EAD_X, VMIN_EAD_Y, color=ORANGE, lw=5, solid_capstyle="butt", zorder=4)
a1.plot(VMIN_X, VMIN_Y, color="k", lw=5, solid_capstyle="butt", zorder=4)
a1.text(0.245, 31, r"$\mathbf{EAD_{max}}$", fontsize=28, ha="center", va="center")
a1.annotate("", xy=(0.418, 9.2), xytext=(0.33, 19.5),
            arrowprops=dict(arrowstyle="-|>,head_length=0.9,head_width=0.35", lw=2.4,
                            color="k", shrinkA=0, shrinkB=0, mutation_scale=22))
a1.text(0.24, -26.6, r"$\mathbf{EAD_{min}}$", fontsize=28, ha="center", va="center")
a1.annotate("", xy=(0.418, -11.7), xytext=(0.33, -22.5),
            arrowprops=dict(arrowstyle="-|>,head_length=0.9,head_width=0.35", lw=2.4,
                            color="k", shrinkA=0, shrinkB=0, mutation_scale=22))
a1.text(0.87, 30.4, r"V$_{\rm max}$", fontsize=27, ha="center", va="center")
a1.text(0.87, -77, r"V$_{\rm min}$", fontsize=27, ha="center", va="center")
down_arrow(a1, 0.4, -75, -100, "b", -66)
down_arrow(a1, 0.6, -75, -100, "a", -66)

# (i) bottom
a2 = b_axes(264.5, 463, (0, 3), [0, 1, 2, 3], r"APD$_{90}$ (s)", xlab=True)
a2.axvspan(-0.2, SHADE_END, color=BG, lw=0, zorder=0)
for x0, x1, y in zip(MAG_BAND_X0, MAG_BAND_X1, MAG_BAND_Y):
    a2.plot([x0, x1], [y, y], color=MAGENTA, lw=5, solid_capstyle="butt", zorder=4)
a2.plot(MAG_DOT_X, MAG_DOT_Y, "o", color=MAGENTA, ms=4.5, zorder=4)
for x, y in zip(STEP_X, STEP_Y):
    a2.plot([x - 0.009, x + 0.008], [y, y], color=BLUE, lw=5, solid_capstyle="butt", zorder=4)
a2.plot([x - 0.012 for x in STEP_X], STEP_Y, "x", color=MAGENTA, ms=11, mew=3.2, zorder=5)
a2.plot([x + 0.011 for x in STEP_X], STEP_Y, "x", color=MAGENTA, ms=9, mew=3, zorder=5)
a2.plot(APD_NOEAD_X, APD_NOEAD_Y, color="k", lw=4.5, zorder=4)
a2.text(0.642, 2.25, "+EAD", fontsize=30, fontweight="bold", ha="center", va="center")
a2.text(0.821, 1.52, "no-EAD", fontsize=30, fontweight="bold", ha="center", va="center")
a2.annotate("", xy=(0.871, 0.42), xytext=(0.871, 1.33),
            arrowprops=dict(arrowstyle="-|>,head_length=1.0,head_width=0.35", lw=2.4,
                            color="k", shrinkA=0, shrinkB=0, mutation_scale=22))
down_arrow(a2, 0.4, 0.47, 0.0, "b", 0.65)
down_arrow(a2, 0.6, 0.47, 0.0, "a", 0.65)
a2.set_xlabel(r"$\mathbf{I_{Kr}}$ Conductance (×Control)", fontsize=35)
a2.xaxis.set_label_coords(0.5, -0.166)

# (ii) top
a3 = b_axes(575.3, 772.5, (-100, 60), [-80, -40, 0, 40], "Voltage (mV)")
a3.plot(VE1_X, VE1_Y, color=DKGREEN, lw=7, solid_capstyle="butt", zorder=3)
a3.plot(VE2_X, VE2_Y, color="k", lw=2.2, ls=(0, (4, 3)), zorder=3)
a3.plot(VE3_X, VE3_Y, color="k", lw=2.2, ls=(0, (4, 3)), zorder=3)
a3.plot(LCMAX_X, LCMAX_Y, color=GRAY, lw=3.6, zorder=4)
a3.plot(LCMIN_X, LCMIN_Y, color=GRAY, lw=3.6, zorder=4)
a3.plot(SOMAX_X, SOMAX_Y, color=RED, lw=4.5, zorder=5)
a3.plot(SOMAX2_X, SOMAX2_Y, color=RED, lw=4.5, zorder=5)
a3.plot(SOMIN_X, SOMIN_Y, color=BLUE, lw=4.5, zorder=5)
a3.plot(SOMIN2_X, SOMIN2_Y, color=BLUE, lw=4.5, zorder=5)
a3.text(0.122, 48, r"$\mathbf{SO_{max}}$", fontsize=28, ha="center", va="center")
a3.plot([0.107, 0.1], [39.4, 28.5], color="k", lw=2)
a3.text(0.011, -25.8, r"$\mathbf{SO_{min}}$", fontsize=28, ha="center", va="center")
a3.plot([-0.024, -0.027], [-19, -5.4], color="k", lw=2)
a3.text(0.704, 43.4, r"LC$_{\rm max}$", fontsize=31, ha="center", va="center")
a3.plot([0.671, 0.64], [36.7, 10.5], color="k", lw=2)
a3.text(0.70, -65, r"LC$_{\rm min}$", fontsize=31, ha="center", va="center")
a3.plot([0.666, 0.64], [-58.4, -26.5], color="k", lw=2)
a3.text(0.85, -8.5, r"V$_{\rm E3}$", fontsize=25, ha="center", va="center",
        bbox=dict(facecolor="white", edgecolor="none", pad=1))
a3.text(0.855, -46.5, r"V$_{\rm E2}$", fontsize=25, ha="center", va="center",
        bbox=dict(facecolor="white", edgecolor="none", pad=1))
a3.text(0.87, -77.4, r"V$_{\rm E1}$", fontsize=25, ha="center", va="center")
down_arrow(a3, 0.4, -76, -100, "c", -68)

# (ii) bottom
a4 = b_axes(785, 983, (0, 3), [0, 1, 2, 3], "Period (s)", xlab=True)
a4.plot(LC_PER_X, LC_PER_Y, color=GRAY, lw=4.2, zorder=4)
a4.plot(LC_FLAT_X, LC_FLAT_Y, color=GRAY, lw=6, solid_capstyle="butt", zorder=4)
a4.plot(SO_PER_X, SO_PER_Y, color=MAGENTA, lw=5, zorder=5)
a4.plot(SO_PER2_X, SO_PER2_Y, color=MAGENTA, lw=5, zorder=5)
a4.annotate("", xy=(0.666, 2.15), xytext=(0.945, 1.54),
            arrowprops=dict(arrowstyle="-|>,head_length=1.0,head_width=0.38", lw=2.6,
                            color="k", shrinkA=0, shrinkB=0, mutation_scale=22,
                            connectionstyle="arc3,rad=-0.12"))
a4.text(0.252, 2.05, "LC", fontsize=27, ha="center", va="center")
a4.plot([0.247, 0.242], [1.88, 1.6], color="k", lw=2)
a4.text(0.102, 1.03, "SO", fontsize=27, ha="center", va="center")
a4.plot([0.112, 0.118], [1.2, 1.52], color="k", lw=2)
down_arrow(a4, 0.4, 0.47, 0.0, "c", 0.63)
a4.set_xlabel(r"$\mathbf{I_{Kr}}$ Conductance (×Control)", fontsize=35)
a4.xaxis.set_label_coords(0.5, -0.187)

fig.savefig("out.png", dpi=100)
